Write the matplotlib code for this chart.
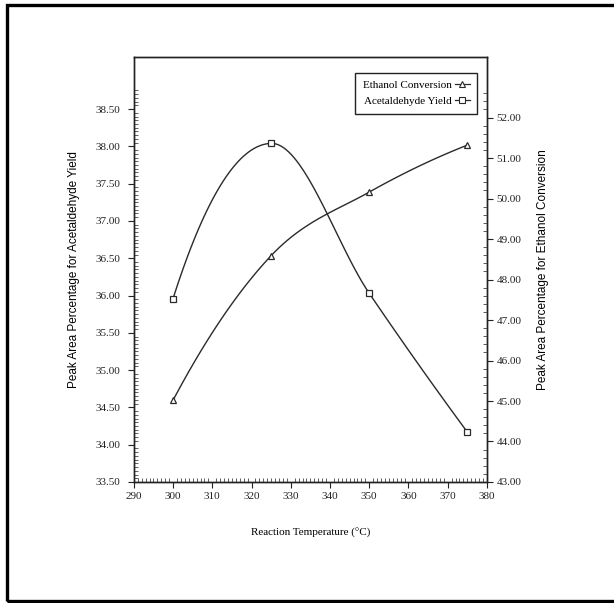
#!/usr/bin/env python

import numpy as np
import matplotlib.pyplot as plt
from matplotlib.ticker import MultipleLocator, FormatStrFormatter
from matplotlib.patches import Rectangle
from matplotlib.lines import Line2D

# reaction temperatures (deg C)
temps = [300, 325, 350, 375]
# peak area percentages
acet_yield = [35.96, 38.04, 36.03, 34.17]      # left axis, squares
eth_conv = [45.02, 48.59, 50.16, 51.32]        # right axis, triangles

xticks = [290, 300, 310, 320, 330, 340, 350, 360, 370, 380]
left_ticks = [33.5, 34.0, 34.5, 35.0, 35.5, 36.0, 36.5, 37.0, 37.5, 38.0, 38.5]
right_ticks = [43, 44, 45, 46, 47, 48, 49, 50, 51, 52]


def smooth(x, y, n=40):
    # cubic hermite through the points, spreadsheet-like smoothed line
    x = np.asarray(x, float)
    y = np.asarray(y, float)
    m = np.zeros_like(y)
    m[1:-1] = (y[2:] - y[:-2]) / 2
    m[0] = 2 * (y[1] - y[0]) - m[1]
    m[-1] = 2 * (y[-1] - y[-2]) - m[-2]
    t = np.linspace(0, 1, n)
    h00 = 2 * t**3 - 3 * t**2 + 1
    h10 = t**3 - 2 * t**2 + t
    h01 = -2 * t**3 + 3 * t**2
    h11 = t**3 - t**2
    xs, ys = [], []
    for i in range(len(x) - 1):
        xs.extend(x[i] + (x[i + 1] - x[i]) * t)
        ys.extend(h00 * y[i] + h10 * m[i] + h01 * y[i + 1] + h11 * m[i + 1])
    return xs, ys


plt.rcParams['font.family'] = 'Liberation Serif'

fig = plt.figure(figsize=(6.14, 6.03), dpi=100)
ax = fig.add_axes([0.218, 0.2007, 0.575, 0.705])
ax2 = ax.twinx()

lc = '#2a2a2a'

#### acetaldehyde yield (left axis)
sx, sy = smooth(temps, acet_yield)
ax.plot(sx, sy, color=lc, lw=1.0)
ax.plot(temps, acet_yield, 's', mfc='white', mec=lc, ms=5, mew=0.9)

#### ethanol conversion (right axis)
ex, ey = smooth(temps, eth_conv)
ax2.plot(ex, ey, color=lc, lw=1.0)
ax2.plot(temps, eth_conv, '^', mfc='white', mec=lc, ms=5, mew=0.9)

ax.set_xlim(290, 380)
ax.set_ylim(33.5, 39.2)
ax2.set_ylim(43.0, 53.5)

ax.set_xticks(xticks)
ax.xaxis.set_minor_locator(MultipleLocator(1))
ax.set_yticks(left_ticks)
ax.set_yticks(np.arange(33.5, 38.76, 0.05), minor=True)
ax.yaxis.set_major_formatter(FormatStrFormatter('%.2f'))
ax2.set_yticks(right_ticks)
ax2.set_yticks(np.arange(43.0, 52.61, 0.2), minor=True)
ax2.yaxis.set_major_formatter(FormatStrFormatter('%.2f'))

for a in (ax, ax2):
    a.tick_params(which='major', direction='out', length=4, width=0.8,
                  labelsize=8, pad=3, colors='#222222')
    a.tick_params(which='minor', direction='in', length=3, width=0.6,
                  colors='#444444')
    for s in a.spines.values():
        s.set_linewidth(1.0)
        s.set_color('#222222')
ax.tick_params(axis='y', which='major', pad=6)

ax.set_ylabel('Peak Area Percentage for Acetaldehyde Yield',
              family='Liberation Sans', fontsize=8.5, labelpad=11)
ax2.set_ylabel('Peak Area Percentage for Ethanol Conversion',
               family='Liberation Sans', fontsize=8.5, rotation=90,
               labelpad=11)
ax.set_xlabel('Reaction Temperature (\u00b0C)', fontsize=8, labelpad=20)

handles = [Line2D([], [], color=lc, lw=0.9, marker='^', mfc='white', mec=lc,
                  ms=4, mew=0.8),
           Line2D([], [], color=lc, lw=0.9, marker='s', mfc='white', mec=lc,
                  ms=4, mew=0.8)]
leg = ax2.legend(handles, ['Ethanol Conversion', 'Acetaldehyde Yield'],
                 loc='upper right', bbox_to_anchor=(0.989, 0.976),
                 markerfirst=False, handlelength=1.3, handletextpad=0.3,
                 fontsize=8, fancybox=False, framealpha=1,
                 edgecolor='#222222', borderpad=0.7, labelspacing=0.55)
leg.get_frame().set_linewidth(1.0)

# scanned page border
fig.add_artist(Rectangle((0.0122, 0.0041), 1.2, 0.987, fill=False,
                         edgecolor='black', lw=2.4,
                         transform=fig.transFigure))

outname = 'out.png'
plt.savefig(outname, dpi=100)
